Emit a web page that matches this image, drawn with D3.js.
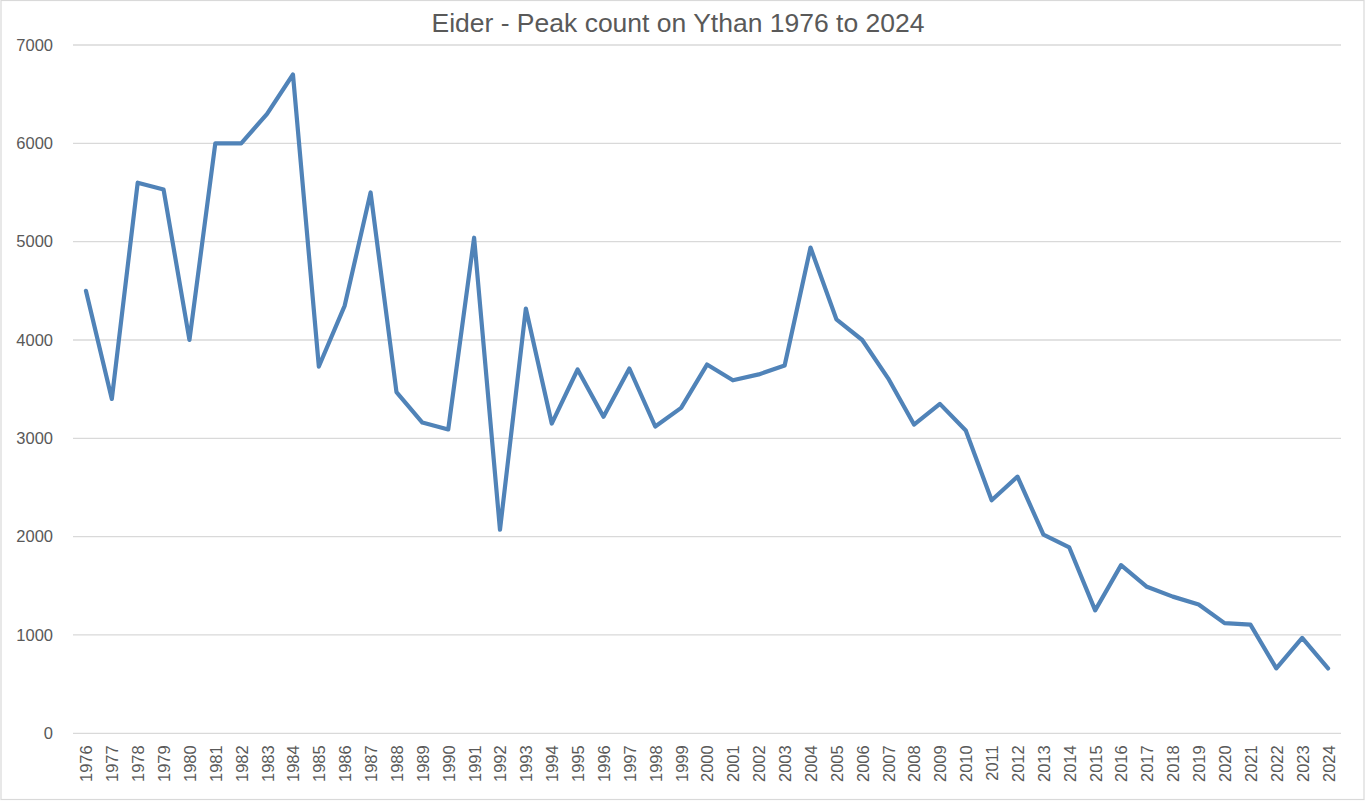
<!DOCTYPE html>
<html>
<head>
<meta charset="utf-8">
<script src="https://cdn.jsdelivr.net/npm/d3@7"></script>
<style>
  html, body { margin: 0; padding: 0; background: #fff; }
  svg { display: block; }
  text { font-family: "Liberation Sans", Arial, sans-serif; fill: #595959; }
</style>
</head>
<body>
<svg id="chart" width="1366" height="801"></svg>
<script>
const titleText = "Eider - Peak count on Ythan 1976 to 2024";
const years = ["1976","1977","1978","1979","1980","1981","1982","1983","1984","1985",
  "1986","1987","1988","1989","1990","1991","1992","1993","1994","1995",
  "1996","1997","1998","1999","2000","2001","2002","2003","2004","2005",
  "2006","2007","2008","2009","2010","2011","2012","2013","2014","2015",
  "2016","2017","2018","2019","2020","2021","2022","2023","2024"];
const counts = [4500,3400,5600,5530,4000,6000,6000,6300,6700,3730,
  4350,5500,3470,3160,3090,5040,2070,4320,3150,3700,
  3220,3710,3120,3310,3750,3590,3650,3740,4940,4210,
  4000,3610,3140,3350,3080,2370,2610,2020,1890,1250,
  1710,1490,1390,1310,1120,1105,660,970,660];
const yTicks = [0,1000,2000,3000,4000,5000,6000,7000];

(function () {
const svg = d3.select("#chart");
const pLeft = 73, pRight = 1341, pTop = 45, pBottom = 733.3;

// outer border
svg.append("rect").attr("x", 1).attr("y", 0.5).attr("width", 1363).attr("height", 799)
  .attr("fill", "#fff").attr("stroke", "#d9d9d9").attr("stroke-width", 1.2);

const x = d3.scalePoint().domain(years).range([pLeft, pRight]).padding(0.5);
const y = d3.scaleLinear().domain([0, 7000]).range([pBottom, pTop]);

// gridlines
svg.append("g").selectAll("line").data(yTicks).join("line")
  .attr("x1", pLeft).attr("x2", pRight)
  .attr("y1", d => y(d)).attr("y2", d => y(d))
  .attr("stroke", "#d9d9d9").attr("stroke-width", 1.3);

// y axis labels
const yAxis = d3.axisLeft(y).tickValues(yTicks).tickSize(0).tickPadding(0).tickFormat(d3.format("d"));
const yg = svg.append("g").attr("transform", `translate(${pLeft - 20},0)`).call(yAxis);
yg.select(".domain").remove();
yg.selectAll("text").attr("font-size", 16.5).style("fill", "#595959")
  .style("font-family", "'Liberation Sans', Arial, sans-serif");

// x axis labels
const xAxis = d3.axisBottom(x).tickSize(0).tickPadding(0);
const xg = svg.append("g").attr("transform", `translate(0,${pBottom})`).call(xAxis);
xg.select(".domain").remove();
xg.selectAll("text")
  .attr("font-size", 16.5).style("fill", "#595959")
  .style("font-family", "'Liberation Sans', Arial, sans-serif")
  .attr("text-anchor", "end")
  .attr("transform", "rotate(-90)")
  .attr("x", -12).attr("y", 0).attr("dy", "0.36em");

// line
const line = d3.line().x((d, i) => x(years[i])).y(d => y(d));
svg.append("path").datum(counts)
  .attr("d", line)
  .attr("fill", "none")
  .attr("stroke", "#5083b8")
  .attr("stroke-width", 4.2)
  .attr("stroke-linejoin", "round")
  .attr("stroke-linecap", "round");

// title
svg.append("text").attr("x", 678).attr("y", 32).attr("text-anchor", "middle")
  .attr("font-size", 26.5).style("font-family", "'Liberation Sans', Arial, sans-serif")
  .text(titleText);
})();
</script>
</body>
</html>
